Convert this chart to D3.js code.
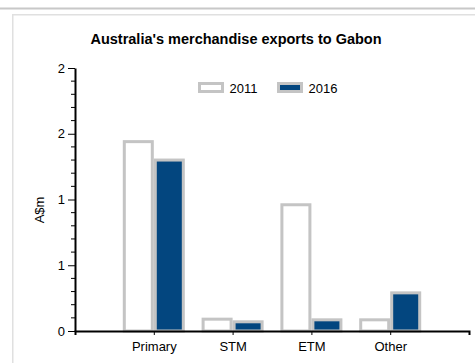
<!DOCTYPE html>
<html>
<head>
<meta charset="utf-8">
<script src="https://cdn.jsdelivr.net/npm/d3@7"></script>
<style>
  html, body { margin: 0; padding: 0; background: #fff; }
  svg { display: block; }
</style>
</head>
<body>
<svg id="chart" width="475" height="363"></svg>
<script>
// Australia's merchandise exports to Gabon, A$m
const categories = ["Primary", "STM", "ETM", "Other"];
const seriesNames = ["2011", "2016"];
const values2011 = [1.44, 0.09, 0.96, 0.085];
const values2016 = [1.30, 0.07, 0.085, 0.29];
const yTickValues = [0, 0.5, 1, 1.5, 2];
const yTickLabels = ["0", "1", "1", "2", "2"];

const fills = ["#ffffff", "#03467f"];
const strokeCol = "#c4c4c4";
const font = "Arial, 'Liberation Sans', sans-serif";

const svg = d3.select("#chart");

// frame lines
svg.append("rect").attr("x", 0).attr("y", 7.5).attr("width", 475).attr("height", 2).attr("fill", "#c8c8c8");
svg.append("rect").attr("x", 12).attr("y", 14).attr("width", 463).attr("height", 1.5).attr("fill", "#e0e0e0");
svg.append("rect").attr("x", 12).attr("y", 14).attr("width", 1.5).attr("height", 349).attr("fill", "#e0e0e0");

// title
svg.append("text")
  .attr("x", 236).attr("y", 44)
  .attr("text-anchor", "middle")
  .attr("font-family", font)
  .attr("font-weight", "bold")
  .attr("font-size", 14.5)
  .attr("fill", "#000")
  .text("Australia's merchandise exports to Gabon");

const x0 = 75, x1 = 469, yBase = 331, yTop = 68;
// categories sit at positions 1..4 along a 0..5 span
const x = d3.scaleLinear().domain([0, categories.length + 1]).range([x0, x1]);
const y = d3.scaleLinear().domain([0, 2]).range([yBase, yTop]);

const barW = 28, slot = 31;
const series = [values2011, values2016];

series.forEach((vals, si) => {
  svg.append("g").selectAll("rect")
    .data(vals)
    .join("rect")
    .attr("x", (d, i) => x(i + 1) - slot + si * slot + 1.5)
    .attr("y", d => y(d))
    .attr("width", barW)
    .attr("height", d => yBase - y(d))
    .attr("fill", fills[si])
    .attr("stroke", strokeCol)
    .attr("stroke-width", 3);
});

// y axis: minor ticks
const minor = d3.range(0, 2.0001, 0.1).filter(v => !yTickValues.some(t => Math.abs(t - v) < 1e-6));
svg.append("g").selectAll("line")
  .data(minor)
  .join("line")
  .attr("x1", x0 - 4).attr("x2", x0)
  .attr("y1", d => y(d)).attr("y2", d => y(d))
  .attr("stroke", "#000").attr("stroke-width", 1);

const yAxis = d3.axisLeft(y)
  .tickValues(yTickValues)
  .tickFormat((d, i) => yTickLabels[i])
  .tickSize(7)
  .tickSizeOuter(0)
  .tickPadding(3);
const gy = svg.append("g").attr("transform", `translate(${x0},0)`).call(yAxis);
gy.select(".domain").attr("stroke", "#000").attr("stroke-width", 2);
gy.selectAll(".tick line").attr("stroke", "#000");
gy.selectAll(".tick text").attr("font-family", font).attr("font-size", 13).attr("fill", "#000");

// x axis
const xAxis = d3.axisBottom(x)
  .tickValues(categories.map((c, i) => i + 1))
  .tickFormat((d, i) => categories[i])
  .tickSize(4)
  .tickSizeOuter(4)
  .tickPadding(7);
const gx = svg.append("g").attr("transform", `translate(0,${yBase})`).call(xAxis);
gx.select(".domain").attr("stroke", "#000").attr("stroke-width", 2);
gx.selectAll(".tick line").attr("stroke", "#000");
gx.selectAll(".tick text").attr("font-family", font).attr("font-size", 13).attr("fill", "#000");

// y axis title
svg.append("text")
  .attr("transform", "translate(44,210) rotate(-90)")
  .attr("text-anchor", "middle")
  .attr("font-family", font)
  .attr("font-size", 13)
  .attr("fill", "#000")
  .text("A$m");

// legend
const legend = svg.append("g");
const legendX = [199.5, 278.5];
seriesNames.forEach((name, i) => {
  legend.append("rect")
    .attr("x", legendX[i]).attr("y", 83.5)
    .attr("width", 23).attr("height", 8)
    .attr("fill", fills[i]).attr("stroke", strokeCol).attr("stroke-width", 3);
  legend.append("text")
    .attr("x", legendX[i] + 30).attr("y", 92.5)
    .attr("font-family", font)
    .attr("font-size", 13)
    .attr("fill", "#000")
    .text(name);
});
</script>
</body>
</html>
